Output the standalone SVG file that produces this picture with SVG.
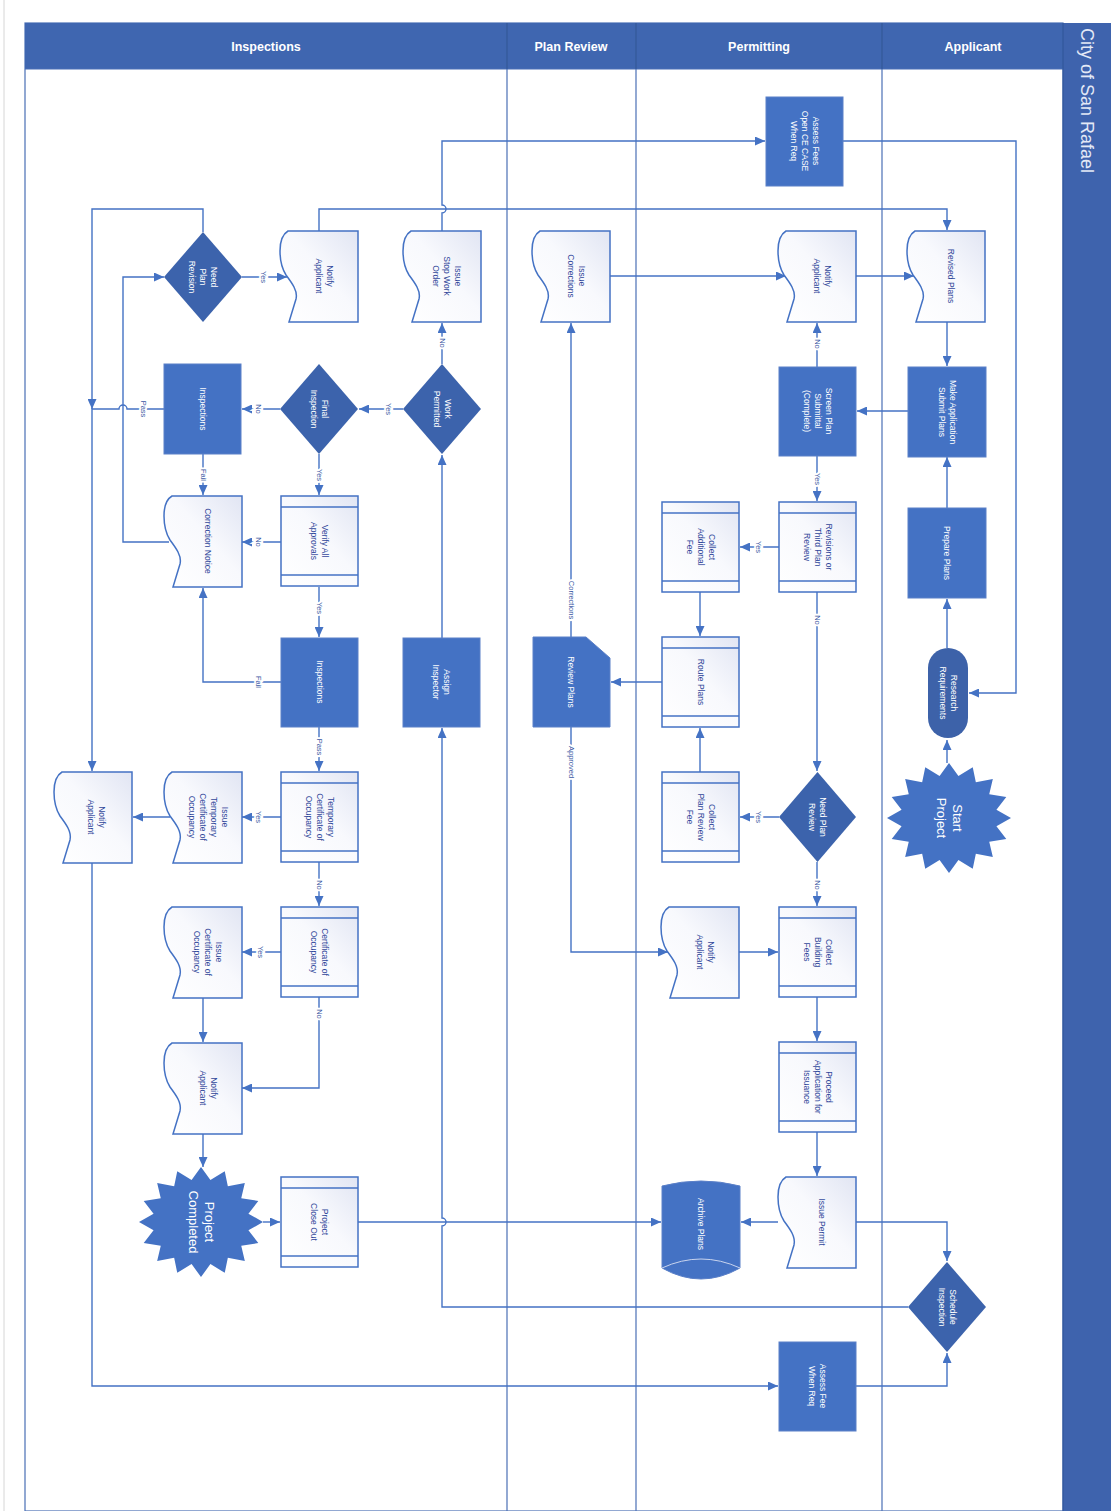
<svg xmlns="http://www.w3.org/2000/svg" width="1111" height="1511" viewBox="0 0 1111 1511">
<style>
.doc{fill:url(#lg);stroke:#4472C4;stroke-width:1.5}
.sub{stroke:#4472C4;stroke-width:1.5}
.proc{fill:#4472C4;stroke:#5B80C8;stroke-width:1}
.dia{fill:#3C63AC}
.t{font-family:"Liberation Sans",Arial,sans-serif;font-size:8.5px;fill:#30479A;text-anchor:middle}
.w{fill:#ffffff}
.lbl{font-family:"Liberation Sans",Arial,sans-serif;font-size:7.5px;fill:#3A57A3;text-anchor:middle;stroke:#ffffff;stroke-width:4;paint-order:stroke}
.con{fill:none;stroke:#4472C4;stroke-width:1.4}
.arr{marker-end:url(#ah)}
.lane{stroke:#4A6FB5;stroke-width:1.2}
.hdr{font-family:"Liberation Sans",Arial,sans-serif;font-size:12.5px;font-weight:bold;fill:#ffffff;text-anchor:middle}
</style>
<defs>
<linearGradient id="lg" x1="0" y1="1" x2="1" y2="0">
<stop offset="0" stop-color="#ffffff"/>
<stop offset="0.55" stop-color="#f8f9fd"/>
<stop offset="1" stop-color="#e1e5f3"/>
</linearGradient>
<path id="docp" d="M8,0 H78 V91 H9 L16,68 C18,60 12,52 6,44 C1,36 0,28 0,20 C0,10 3,3 8,0 Z"/>
<g id="subp">
<rect x="0" y="0" width="77" height="90" fill="url(#lg)"/>
<line x1="0" y1="11" x2="77" y2="11"/>
<line x1="0" y1="79" x2="77" y2="79"/>
</g>
<path id="star" d="M1,0 L.765,.152 L.924,.383 L.649,.433 L.707,.707 L.433,.649 L.383,.924 L.152,.765 L0,1 L-.152,.765 L-.383,.924 L-.433,.649 L-.707,.707 L-.649,.433 L-.924,.383 L-.765,.152 L-1,0 L-.765,-.152 L-.924,-.383 L-.649,-.433 L-.707,-.707 L-.433,-.649 L-.383,-.924 L-.152,-.765 L0,-1 L.152,-.765 L.383,-.924 L.433,-.649 L.707,-.707 L.649,-.433 L.924,-.383 L.765,-.152 Z"/>
<marker id="ah" markerUnits="userSpaceOnUse" markerWidth="10" markerHeight="9" refX="10" refY="4.5" orient="auto">
<path d="M0,0 L10,4.5 L0,9 Z" fill="#4472C4"/>
</marker>
</defs>

<rect x="0" y="0" width="1111" height="1511" fill="#ffffff"/>
<line x1="4" y1="0" x2="4" y2="1511" stroke="#d6d6d6" stroke-width="1"/>

<g id="frame">
<rect x="25" y="23" width="1038" height="1488" fill="#ffffff" stroke="#4A6FB5" stroke-width="1.2"/>
<rect x="25" y="23" width="1038" height="46" fill="#3F66B0"/>
<line class="lane" x1="25" y1="69" x2="1063" y2="69" stroke="#2F5597"/>
<line class="lane" x1="507" y1="23" x2="507" y2="1511"/>
<line class="lane" x1="636" y1="23" x2="636" y2="1511"/>
<line class="lane" x1="882" y1="23" x2="882" y2="1511"/>
<line x1="507" y1="23" x2="507" y2="69" stroke="#2F5597" stroke-width="1.2"/>
<line x1="636" y1="23" x2="636" y2="69" stroke="#2F5597" stroke-width="1.2"/>
<line x1="882" y1="23" x2="882" y2="69" stroke="#2F5597" stroke-width="1.2"/>
<rect x="1063" y="23" width="48" height="1488" fill="#3E63AD"/>
<line x1="1063" y1="23" x2="1063" y2="1511" stroke="#2F5597" stroke-width="1"/>
<text class="hdr" x="266" y="51">Inspections</text>
<text class="hdr" x="571" y="51">Plan Review</text>
<text class="hdr" x="759" y="51">Permitting</text>
<text class="hdr" x="973" y="51">Applicant</text>
<text transform="translate(1081,28) rotate(90)" font-family="Liberation Sans, Arial, sans-serif" font-size="18" fill="#E3E9F6">City of San Rafael</text>
</g>

<g id="connectors">
<path class="con arr" d="M947,763 V740"/>
<path class="con arr" d="M947,648 V599"/>
<path class="con arr" d="M947,508 V457"/>
<path class="con arr" d="M947,322 V366"/>
<path class="con arr" d="M908,411 H857"/>
<path class="con arr" d="M817,367 V323"/>
<path class="con arr" d="M817,456 V501"/>
<path class="con arr" d="M856,276 H914"/>
<path class="con arr" d="M610,276 H786"/>
<path class="con arr" d="M843,141 H1016 V693 H969"/>
<path class="con arr" d="M442,231 V213 A4,4 0 0 0 442,205 V141 H765"/>
<path class="con arr" d="M319,231 V209 H947 V230"/>
<path class="con arr" d="M203,232 V209 H92 V409"/>
<path class="con arr" d="M242,277 H287"/>
<path class="con arr" d="M164,409 H127 A4,4 0 0 0 119,409 H92 V771"/>
<path class="con arr" d="M169,542 H123 V277 H164"/>
<path class="con arr" d="M442,638 V455"/>
<path class="con arr" d="M442,364 V323"/>
<path class="con arr" d="M403,409 H359"/>
<path class="con arr" d="M280,409 H242"/>
<path class="con arr" d="M319,454 V495"/>
<path class="con arr" d="M203,454 V495"/>
<path class="con arr" d="M281,542 H242"/>
<path class="con arr" d="M319,587 V637"/>
<path class="con arr" d="M281,682 H203 V588"/>
<path class="con arr" d="M319,727 V771"/>
<path class="con arr" d="M281,817 H242"/>
<path class="con arr" d="M170,817 H133"/>
<path class="con arr" d="M92,863 V1386 H778"/>
<path class="con arr" d="M319,862 V906"/>
<path class="con arr" d="M281,952 H242"/>
<path class="con arr" d="M319,997 V1088 H242"/>
<path class="con arr" d="M203,998 V1042"/>
<path class="con arr" d="M203,1134 V1167"/>
<path class="con arr" d="M263,1222 H280"/>
<path class="con arr" d="M358,1222 H661"/>
<path class="con arr" d="M908,1307 H442 V1226 A4,4 0 0 0 442,1218 V728"/>
<path class="con arr" d="M856,1222 H947 V1261"/>
<path class="con arr" d="M856,1386 H947 V1353"/>
<path class="con arr" d="M778,1222 H741"/>
<path class="con arr" d="M817,997 V1041"/>
<path class="con arr" d="M817,1132 V1176"/>
<path class="con arr" d="M817,862 V906"/>
<path class="con arr" d="M779,817 H740"/>
<path class="con arr" d="M700,772 V728"/>
<path class="con arr" d="M700,592 V636"/>
<path class="con arr" d="M779,547 H740"/>
<path class="con arr" d="M817,592 V771"/>
<path class="con arr" d="M662,682 H611"/>
<path class="con arr" d="M571,637 V323"/>
<path class="con arr" d="M571,727 V952 H668"/>
<path class="con arr" d="M739,952 H778"/>
<g id="edge-labels">
<text class="lbl" transform="translate(263,277) rotate(90)" dy="2.5">Yes</text>
<text class="lbl" transform="translate(388,409) rotate(90)" dy="2.5">Yes</text>
<text class="lbl" transform="translate(442,343) rotate(90)" dy="2.5">No</text>
<text class="lbl" transform="translate(258,409) rotate(90)" dy="2.5">No</text>
<text class="lbl" transform="translate(319,475) rotate(90)" dy="2.5">Yes</text>
<text class="lbl" transform="translate(203,475) rotate(90)" dy="2.5">Fail</text>
<text class="lbl" transform="translate(143,409) rotate(90)" dy="2.5">Pass</text>
<text class="lbl" transform="translate(258,542) rotate(90)" dy="2.5">No</text>
<text class="lbl" transform="translate(319,608) rotate(90)" dy="2.5">Yes</text>
<text class="lbl" transform="translate(258,682) rotate(90)" dy="2.5">Fail</text>
<text class="lbl" transform="translate(319,747) rotate(90)" dy="2.5">Pass</text>
<text class="lbl" transform="translate(258,817) rotate(90)" dy="2.5">Yes</text>
<text class="lbl" transform="translate(319,885) rotate(90)" dy="2.5">No</text>
<text class="lbl" transform="translate(260,952) rotate(90)" dy="2.5">Yes</text>
<text class="lbl" transform="translate(319,1014) rotate(90)" dy="2.5">No</text>
<text class="lbl" transform="translate(817,344) rotate(90)" dy="2.5">No</text>
<text class="lbl" transform="translate(817,479) rotate(90)" dy="2.5">Yes</text>
<text class="lbl" transform="translate(758,547) rotate(90)" dy="2.5">Yes</text>
<text class="lbl" transform="translate(817,620) rotate(90)" dy="2.5">No</text>
<text class="lbl" transform="translate(758,817) rotate(90)" dy="2.5">Yes</text>
<text class="lbl" transform="translate(817,885) rotate(90)" dy="2.5">No</text>
<text class="lbl" transform="translate(571,600) rotate(90)" dy="2.5">Corrections</text>
<text class="lbl" transform="translate(571,762) rotate(90)" dy="2.5">Approved</text>
</g>
</g>

<!-- Inspections lane -->
<g id="n-notify-a">
<use href="#docp" class="doc" x="54" y="772"/>
<text class="t" transform="translate(96,817) rotate(90)"><tspan x="0" dy="-2.5">Notify</tspan><tspan x="0" dy="11">Applicant</tspan></text>
</g>
<g id="n-need-plan-revision">
<polygon class="dia" points="203,232 242,277 203,322 164,277"/>
<text class="t w" transform="translate(203,277) rotate(90)"><tspan x="0" dy="-8">Need</tspan><tspan x="0" dy="11">Plan</tspan><tspan x="0" dy="11">Revision</tspan></text>
</g>
<g id="n-inspections-b">
<rect class="proc" x="164" y="364" width="77" height="90"/>
<text class="t w" transform="translate(202.5,409) rotate(90)" dy="3">Inspections</text>
</g>
<g id="n-correction-notice">
<use href="#docp" class="doc" x="164" y="496"/>
<text class="t" transform="translate(208,541) rotate(90)" dy="3">Correction Notice</text>
</g>
<g id="n-issue-tco">
<use href="#docp" class="doc" x="164" y="772"/>
<text class="t" transform="translate(208,817) rotate(90)"><tspan x="0" dy="-13.5">Issue</tspan><tspan x="0" dy="11">Temporary</tspan><tspan x="0" dy="11">Certificate of</tspan><tspan x="0" dy="11">Occupancy</tspan></text>
</g>
<g id="n-issue-co">
<use href="#docp" class="doc" x="164" y="907"/>
<text class="t" transform="translate(208,952) rotate(90)"><tspan x="0" dy="-8">Issue</tspan><tspan x="0" dy="11">Certificate of</tspan><tspan x="0" dy="11">Occupancy</tspan></text>
</g>
<g id="n-notify-b">
<use href="#docp" class="doc" x="164" y="1043"/>
<text class="t" transform="translate(208,1088) rotate(90)"><tspan x="0" dy="-2.5">Notify</tspan><tspan x="0" dy="11">Applicant</tspan></text>
</g>
<g id="n-project-completed">
<use href="#star" fill="#4472C4" transform="translate(201,1222) scale(62,55)"/>
<text class="t w" transform="translate(201,1222) rotate(90)" style="font-size:13px"><tspan x="0" dy="-3.5">Project</tspan><tspan x="0" dy="16">Completed</tspan></text>
</g>
<g id="n-notify-c">
<use href="#docp" class="doc" x="280" y="231"/>
<text class="t" transform="translate(324,276) rotate(90)"><tspan x="0" dy="-2.5">Notify</tspan><tspan x="0" dy="11">Applicant</tspan></text>
</g>
<g id="n-final-inspection">
<polygon class="dia" points="319,364 358,409 319,454 280,409"/>
<text class="t w" transform="translate(319,409) rotate(90)"><tspan x="0" dy="-2.5">Final</tspan><tspan x="0" dy="11">Inspection</tspan></text>
</g>
<g id="n-verify">
<use href="#subp" class="sub" x="281" y="496"/>
<text class="t" transform="translate(319.5,541) rotate(90)"><tspan x="0" dy="-2.5">Verify All</tspan><tspan x="0" dy="11">Approvals</tspan></text>
</g>
<g id="n-inspections-c">
<rect class="proc" x="281" y="638" width="77" height="89"/>
<text class="t w" transform="translate(319.5,682) rotate(90)" dy="3">Inspections</text>
</g>
<g id="n-tco">
<use href="#subp" class="sub" x="281" y="772"/>
<text class="t" transform="translate(319.5,817) rotate(90)"><tspan x="0" dy="-8">Temporary</tspan><tspan x="0" dy="11">Certificate of</tspan><tspan x="0" dy="11">Occupancy</tspan></text>
</g>
<g id="n-co">
<use href="#subp" class="sub" x="281" y="907"/>
<text class="t" transform="translate(319.5,952) rotate(90)"><tspan x="0" dy="-2.5">Certificate of</tspan><tspan x="0" dy="11">Occupancy</tspan></text>
</g>
<g id="n-close-out">
<use href="#subp" class="sub" x="281" y="1177"/>
<text class="t" transform="translate(319.5,1222) rotate(90)"><tspan x="0" dy="-2.5">Project</tspan><tspan x="0" dy="11">Close Out</tspan></text>
</g>
<g id="n-stop-work">
<use href="#docp" class="doc" x="403" y="231"/>
<text class="t" transform="translate(447,276) rotate(90)"><tspan x="0" dy="-8">Issue</tspan><tspan x="0" dy="11">Stop Work</tspan><tspan x="0" dy="11">Order</tspan></text>
</g>
<g id="n-work-permitted">
<polygon class="dia" points="442,364 481,409 442,454 403,409"/>
<text class="t w" transform="translate(442,409) rotate(90)"><tspan x="0" dy="-2.5">Work</tspan><tspan x="0" dy="11">Permitted</tspan></text>
</g>
<g id="n-assign-inspector">
<rect class="proc" x="403" y="638" width="77" height="89"/>
<text class="t w" transform="translate(441.5,682) rotate(90)"><tspan x="0" dy="-2.5">Assign</tspan><tspan x="0" dy="11">Inspector</tspan></text>
</g>

<!-- Plan Review lane -->
<g id="n-issue-corrections">
<use href="#docp" class="doc" x="532" y="231"/>
<text class="t" transform="translate(576,276) rotate(90)"><tspan x="0" dy="-2.5">Issue</tspan><tspan x="0" dy="11">Corrections</tspan></text>
</g>
<g id="n-review-plans">
<path class="proc" d="M533,637 H586 L610,658 V727 H533 Z"/>
<text class="t w" transform="translate(571,682) rotate(90)" dy="3">Review Plans</text>
</g>

<!-- Permitting lane -->
<g id="n-assess-fees">
<rect class="proc" x="766" y="97" width="77" height="89"/>
<text class="t w" transform="translate(804.5,141) rotate(90)"><tspan x="0" dy="-8">Assess Fees</tspan><tspan x="0" dy="11">Open CE CASE</tspan><tspan x="0" dy="11">When Req</tspan></text>
</g>
<g id="n-notify-p1">
<use href="#docp" class="doc" x="778" y="231"/>
<text class="t" transform="translate(822,276) rotate(90)"><tspan x="0" dy="-2.5">Notify</tspan><tspan x="0" dy="11">Applicant</tspan></text>
</g>
<g id="n-screen-plan">
<rect class="proc" x="779" y="367" width="77" height="89"/>
<text class="t w" transform="translate(817.5,411) rotate(90)"><tspan x="0" dy="-8">Screen Plan</tspan><tspan x="0" dy="11">Submittal</tspan><tspan x="0" dy="11">(Complete)</tspan></text>
</g>
<g id="n-revisions">
<use href="#subp" class="sub" x="779" y="502"/>
<text class="t" transform="translate(817.5,547) rotate(90)"><tspan x="0" dy="-8">Revisions or</tspan><tspan x="0" dy="11">Third Plan</tspan><tspan x="0" dy="11">Review</tspan></text>
</g>
<g id="n-collect-additional">
<use href="#subp" class="sub" x="662" y="502"/>
<text class="t" transform="translate(700.5,547) rotate(90)"><tspan x="0" dy="-8">Collect</tspan><tspan x="0" dy="11">Additional</tspan><tspan x="0" dy="11">Fee</tspan></text>
</g>
<g id="n-route-plans">
<use href="#subp" class="sub" x="662" y="637"/>
<text class="t" transform="translate(700.5,682) rotate(90)" dy="3">Route Plans</text>
</g>
<g id="n-collect-plan-review">
<use href="#subp" class="sub" x="662" y="772"/>
<text class="t" transform="translate(700.5,817) rotate(90)"><tspan x="0" dy="-8">Collect</tspan><tspan x="0" dy="11">Plan Review</tspan><tspan x="0" dy="11">Fee</tspan></text>
</g>
<g id="n-need-plan-review">
<polygon class="dia" points="817.5,772 856,817 817.5,862 779,817"/>
<text class="t w" transform="translate(817.5,817) rotate(90)"><tspan x="0" dy="-2.5">Need Plan</tspan><tspan x="0" dy="11">Review</tspan></text>
</g>
<g id="n-notify-p2">
<use href="#docp" class="doc" x="661" y="907"/>
<text class="t" transform="translate(705,952) rotate(90)"><tspan x="0" dy="-2.5">Notify</tspan><tspan x="0" dy="11">Applicant</tspan></text>
</g>
<g id="n-collect-building">
<use href="#subp" class="sub" x="779" y="907"/>
<text class="t" transform="translate(817.5,952) rotate(90)"><tspan x="0" dy="-8">Collect</tspan><tspan x="0" dy="11">Building</tspan><tspan x="0" dy="11">Fees</tspan></text>
</g>
<g id="n-proceed">
<use href="#subp" class="sub" x="779" y="1042"/>
<text class="t" transform="translate(817.5,1087) rotate(90)"><tspan x="0" dy="-8">Proceed</tspan><tspan x="0" dy="11">Application for</tspan><tspan x="0" dy="11">Issuance</tspan></text>
</g>
<g id="n-issue-permit">
<use href="#docp" class="doc" x="778" y="1177"/>
<text class="t" transform="translate(822,1222) rotate(90)" dy="3">Issue Permit</text>
</g>
<g id="n-archive-plans">
<path class="proc" d="M662,1186 Q701,1176 740,1186 V1268 Q701,1290 662,1268 Z"/>
<path d="M662,1268 Q701,1250 740,1268" fill="none" stroke="#C9D4EE" stroke-width="1"/>
<text class="t w" transform="translate(701,1224) rotate(90)" dy="3">Archive Plans</text>
</g>
<g id="n-assess-fee">
<rect class="proc" x="779" y="1342" width="77" height="89"/>
<text class="t w" transform="translate(817.5,1386) rotate(90)"><tspan x="0" dy="-2.5">Assess Fee</tspan><tspan x="0" dy="11">When Req</tspan></text>
</g>

<!-- Applicant lane -->
<g id="n-revised-plans">
<use href="#docp" class="doc" x="907" y="231"/>
<text class="t" transform="translate(951,276) rotate(90)" dy="3">Revised Plans</text>
</g>
<g id="n-make-application">
<rect class="proc" x="908" y="367" width="78" height="90"/>
<text class="t w" transform="translate(947,412) rotate(90)"><tspan x="0" dy="-2.5">Make Application</tspan><tspan x="0" dy="11">Submit Plans</tspan></text>
</g>
<g id="n-prepare-plans">
<rect class="proc" x="908" y="508" width="78" height="90"/>
<text class="t w" transform="translate(947,553) rotate(90)" dy="3">Prepare Plans</text>
</g>
<g id="n-research">
<rect x="928" y="648" width="40" height="90" rx="20" fill="#3D62A9"/>
<text class="t w" transform="translate(948,693) rotate(90)"><tspan x="0" dy="-2.5">Research</tspan><tspan x="0" dy="11">Requirements</tspan></text>
</g>
<g id="n-start-project">
<use href="#star" fill="#4472C4" transform="translate(949,818) scale(62,55)"/>
<text class="t w" transform="translate(949,818) rotate(90)" style="font-size:13px"><tspan x="0" dy="-3.5">Start</tspan><tspan x="0" dy="16">Project</tspan></text>
</g>
<g id="n-schedule-inspection">
<polygon class="dia" points="947,1262 986,1307 947,1352 908,1307"/>
<text class="t w" transform="translate(947,1307) rotate(90)"><tspan x="0" dy="-2.5">Schedule</tspan><tspan x="0" dy="11">Inspection</tspan></text>
</g>
</svg>
